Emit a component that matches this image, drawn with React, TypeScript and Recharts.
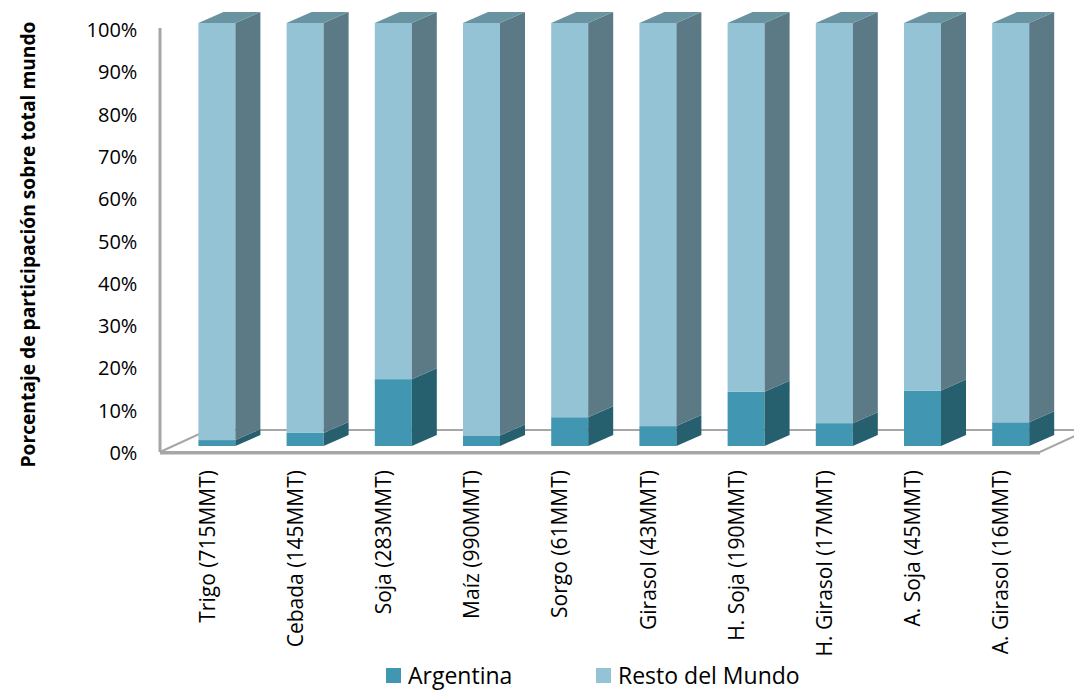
import React from 'react';
import { BarChart, Bar, XAxis, YAxis, Legend, ReferenceArea } from 'recharts';

const categories = [
  'Trigo (715MMT)',
  'Cebada (145MMT)',
  'Soja (283MMT)',
  'Maíz (990MMT)',
  'Sorgo (61MMT)',
  'Girasol (43MMT)',
  'H. Soja (190MMT)',
  'H. Girasol (17MMT)',
  'A. Soja (45MMT)',
  'A. Girasol (16MMT)',
];
const argentina = [1.4, 3.1, 15.8, 2.5, 6.8, 4.7, 12.8, 5.4, 13.1, 5.6];
const restoDelMundo = [98.6, 96.9, 84.2, 97.5, 93.2, 95.3, 87.2, 94.6, 86.9, 94.4];
const yTicks = [0, 10, 20, 30, 40, 50, 60, 70, 80, 90, 100];
const seriesNames = ['Argentina', 'Resto del Mundo'];

const data = categories.map((c, i) => ({
  name: c,
  argentina: argentina[i],
  resto: restoDelMundo[i],
}));

const FONT = '"Open Sans", "Noto Sans", sans-serif';
const DX = 25;
const DY = -11;

const COLORS = {
  argFront: '#4197B1',
  argSide: '#26606F',
  restFront: '#93C3D5',
  restSide: '#5B7A86',
  restTop: '#6A93A1',
};

const makeShape = (front: string, side: string, top: string | null) => (props: any) => {
  const { x, y, width, height } = props;
  if (width == null || height == null) return null;
  const x2 = x + width;
  const yb = y + height;
  return (
    <g>
      <rect x={x} y={y} width={width} height={height} fill={front} />
      <polygon
        points={`${x2},${y} ${x2 + DX},${y + DY} ${x2 + DX},${yb + DY} ${x2},${yb}`}
        fill={side}
      />
      {top && (
        <polygon
          points={`${x},${y} ${x + DX},${y + DY} ${x2 + DX},${y + DY} ${x2},${y}`}
          fill={top}
        />
      )}
    </g>
  );
};

const ArgShape = makeShape(COLORS.argFront, COLORS.argSide, null);
const RestShape = makeShape(COLORS.restFront, COLORS.restSide, COLORS.restTop);

const FloorShape = (props: any) => {
  const { x, y, width, height } = props;
  const left = x - 12.4;
  const right = x + width - 14.4;
  const yf = y + height + 6;
  const yBack = yf - 22;
  return (
    <g>
      <polygon
        points={`${left},${yf} ${right},${yf} ${right + 48},${yBack} ${left + 48},${yBack}`}
        fill="#ffffff"
        stroke="#A6A6A6"
        strokeWidth={2}
      />
      <line x1={left} y1={yf + 1} x2={right} y2={yf + 1} stroke="#A6A6A6" strokeWidth={3} />
      <line x1={left} y1={y + 5} x2={left} y2={yf} stroke="#A6A6A6" strokeWidth={3} />
    </g>
  );
};

const YTick = (props: any) => {
  const { x, y, payload } = props;
  return (
    <text
      x={x - 35}
      y={y + 6.5}
      textAnchor="end"
      dominantBaseline="central"
      fontFamily={FONT}
      fontSize={20}
      fill="#000"
    >
      {`${payload.value}%`}
    </text>
  );
};

const XTick = (props: any) => {
  const { x, y, payload } = props;
  const tx = x - 10;
  const ty = y + 24;
  return (
    <text
      x={tx}
      y={ty}
      transform={`rotate(-90, ${tx}, ${ty})`}
      textAnchor="end"
      dominantBaseline="central"
      fontFamily={FONT}
      fontSize={21}
      fill="#000"
    >
      {payload.value}
    </text>
  );
};

const YLabel = (props: any) => {
  const { viewBox } = props;
  const cx = 19;
  const cy = viewBox.y + viewBox.height / 2 + 10;
  return (
    <text
      x={cx}
      y={cy}
      transform={`rotate(-90, ${cx}, ${cy})`}
      textAnchor="middle"
      dominantBaseline="central"
      fontFamily={FONT}
      fontWeight="bold"
      fontSize={19.2}
      fill="#000"
    >
      Porcentaje de participación sobre total mundo
    </text>
  );
};

const LegendContent = () => {
  const items = [
    { label: seriesNames[0], color: COLORS.argFront, left: 378 },
    { label: seriesNames[1], color: COLORS.restFront, left: 588 },
  ];
  return (
    <div style={{ position: 'relative', height: 0 }}>
      {items.map((it) => (
        <div
          key={it.label}
          style={{
            position: 'absolute',
            left: it.left,
            top: 0,
            display: 'flex',
            alignItems: 'center',
            whiteSpace: 'nowrap',
          }}
        >
          <span
            style={{
              display: 'inline-block',
              width: 15,
              height: 15,
              background: it.color,
              marginRight: 7,
            }}
          />
          <span style={{ fontFamily: FONT, fontSize: 23, color: '#000', lineHeight: '30px' }}>
            {it.label}
          </span>
        </div>
      ))}
    </div>
  );
};

export default function App() {
  return (
    <div style={{ width: 1070, height: 685 }}>
      <BarChart
        width={1070}
        height={685}
        data={data}
        margin={{ top: 15, right: 23.6, left: 0, bottom: 47 }}
        barSize={37}
      >
        <ReferenceArea y1={0} y2={100} shape={FloorShape} ifOverflow="visible" />
        <XAxis
          dataKey="name"
          axisLine={false}
          tickLine={false}
          tickSize={0}
          tickMargin={0}
          interval={0}
          height={200}
          tick={<XTick />}
        />
        <YAxis
          type="number"
          domain={[0, 100]}
          ticks={yTicks}
          axisLine={false}
          tickLine={false}
          tickSize={0}
          tickMargin={0}
          width={164.4}
          tick={<YTick />}
          label={<YLabel />}
        />
        <Legend
          content={<LegendContent />}
          wrapperStyle={{ position: 'absolute', top: 652, left: 0, height: 0, width: 1070 }}
        />
        <Bar
          dataKey="argentina"
          name={seriesNames[0]}
          stackId="a"
          fill={COLORS.argFront}
          shape={ArgShape}
          isAnimationActive={false}
        />
        <Bar
          dataKey="resto"
          name={seriesNames[1]}
          stackId="a"
          fill={COLORS.restFront}
          shape={RestShape}
          isAnimationActive={false}
        />
      </BarChart>
    </div>
  );
}
